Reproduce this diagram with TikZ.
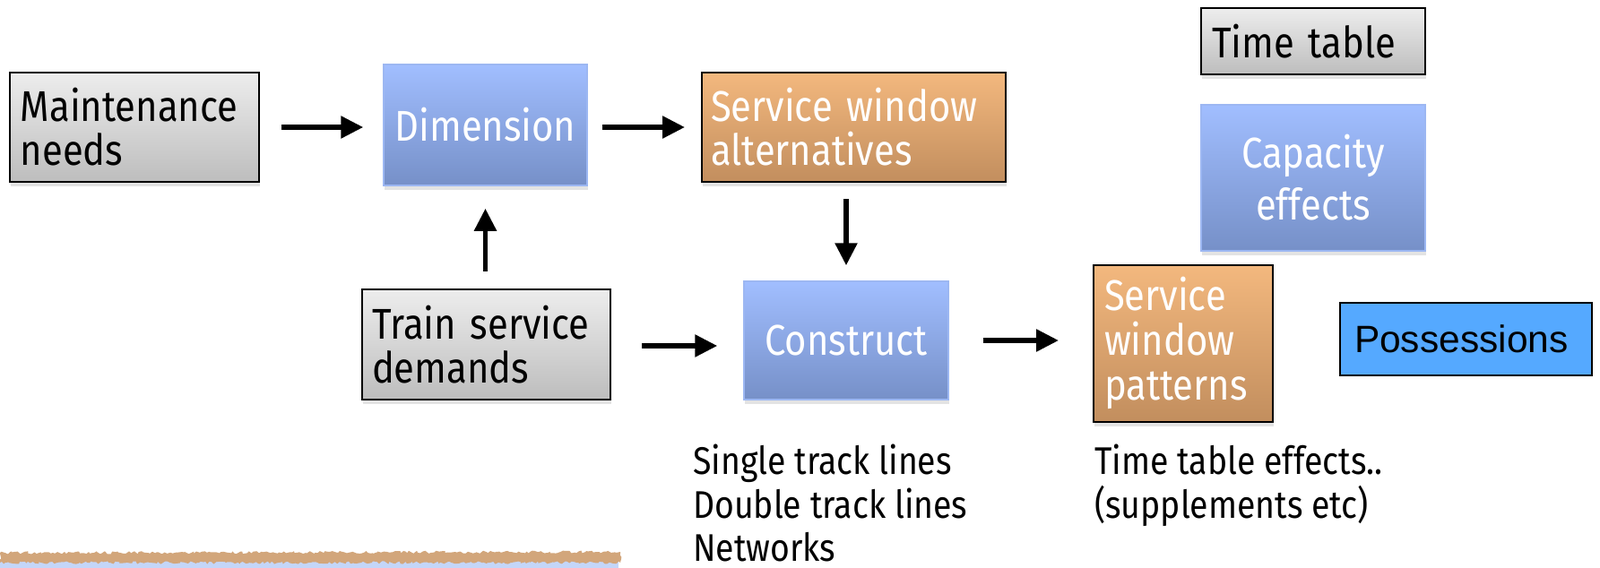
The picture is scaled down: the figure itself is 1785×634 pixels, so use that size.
\documentclass[tikz,border=0pt]{standalone}
\usepackage{fontspec}
\setmainfont[FakeStretch=0.87]{Fira Sans}
\newfontfamily\arialfont{Liberation Sans}
\usetikzlibrary{arrows.meta,shadows,decorations.pathmorphing}
\definecolor{gtop}{HTML}{EDEDED}
\definecolor{gbot}{HTML}{BDBDBD}
\definecolor{btop}{HTML}{A1BEFF}
\definecolor{bbot}{HTML}{7690C8}
\definecolor{bborder}{HTML}{9CB7F2}
\definecolor{otop}{HTML}{F3B87E}
\definecolor{obot}{HTML}{C28E5E}
\definecolor{posfill}{HTML}{55A9FF}
\definecolor{bandbrown}{HTML}{D2A67B}
\definecolor{bandblue}{HTML}{C4D6F9}
\tikzset{
  boxbase/.style={rectangle, inner ysep=0pt, font=\fontsize{48}{49}\selectfont,
    drop shadow={opacity=0.22, shadow xshift=1pt, shadow yshift=-5pt}},
  graybox/.style={boxbase, draw=black, line width=2pt, top color=gtop, bottom color=gbot, text=black, align=left},
  bluebox/.style={boxbase, draw=bborder, line width=1.5pt, top color=btop, bottom color=bbot, text=white, align=center},
  orangebox/.style={boxbase, draw=black, line width=2pt, top color=otop, bottom color=obot, text=white, align=left},
  posbox/.style={rectangle, draw=black, line width=2pt, fill=posfill, text=black, align=left,
    font=\arialfont\fontsize{42.5}{46}\selectfont, inner ysep=0pt},
  arr/.style={line width=5.5pt, -{Triangle[length=25pt,width=24pt]}},
  note/.style={anchor=north west, inner sep=0pt, align=left, font=\fontsize{43}{48.5}\selectfont}
}
\begin{document}
\begin{tikzpicture}[x=1pt,y=-1pt]
\useasboundingbox (0,0) rectangle (1785,634);
% boxes
\node[graybox, minimum width=278pt, minimum height=122pt, text width=254pt, inner xsep=12pt] (mn) at (150,142) {Maintenance\\needs};
\node[bluebox, minimum width=227pt, minimum height=135pt] (dim) at (541.5,139.5) {Dimension};
\node[orangebox, minimum width=339pt, minimum height=122pt, text width=319pt, inner xsep=10pt] (swa) at (952.5,142) {Service window\\alternatives};
\node[graybox, minimum width=250pt, minimum height=74pt, text width=226pt, inner xsep=12pt] (tt) at (1465,46) {Time table};
\node[bluebox, minimum width=250pt, minimum height=163pt, font=\fontsize{48}{58}\selectfont] (ce) at (1465,198.5) {Capacity\\effects};
\node[graybox, minimum width=277pt, minimum height=123pt, text width=255pt, inner xsep=11pt] (tsd) at (542.5,384.5) {Train service\\demands};
\node[bluebox, minimum width=228pt, minimum height=132pt] (con) at (944,380) {Construct};
\node[orangebox, minimum width=200pt, minimum height=175pt, text width=176pt, inner xsep=12pt, font=\fontsize{48}{50}\selectfont] (swp) at (1320,383) {Service\\window\\patterns};
\node[posbox, minimum width=281pt, minimum height=81pt, text width=249pt, inner xsep=16pt] (pos) at (1635.5,378.5) {Possessions};
% notes
\node[note] (n1) at (773,496) {Single track lines\\Double track lines\\Networks};
\node[note] (n2) at (1221,496) {Time table effects..\\(supplements etc)};
% arrows
\draw[arr, shorten <=24pt, shorten >=22pt] (mn.east) -- (mn.east -| dim.west);
\draw[arr, shorten <=16pt, shorten >=18pt] (dim.east |- mn.east) -- (swa.west |- mn.east);
\draw[arr, shorten <=19pt, shorten >=25pt] (tsd.north -| dim.south) -- (dim.south);
\draw[arr, shorten <=18pt, shorten >=17pt] (swa.south -| con.north) -- (con.north);
\draw[arr, shorten <=34pt, shorten >=29pt] (tsd.east) ++(0,1.5) coordinate (tsdr) (tsdr) -- (tsdr -| con.west);
\draw[arr, shorten <=38pt, shorten >=38pt] (con.east) -- (con.east -| swp.west);
% bottom strip
\fill[bandblue] (0,626) rectangle (690,634);
\fill[bandbrown, decorate, decoration={random steps, segment length=2.5pt, amplitude=1.6pt}]
  (0,617) -- (692,616) -- (692,628) -- (0,628) -- cycle;
\end{tikzpicture}
\end{document}
